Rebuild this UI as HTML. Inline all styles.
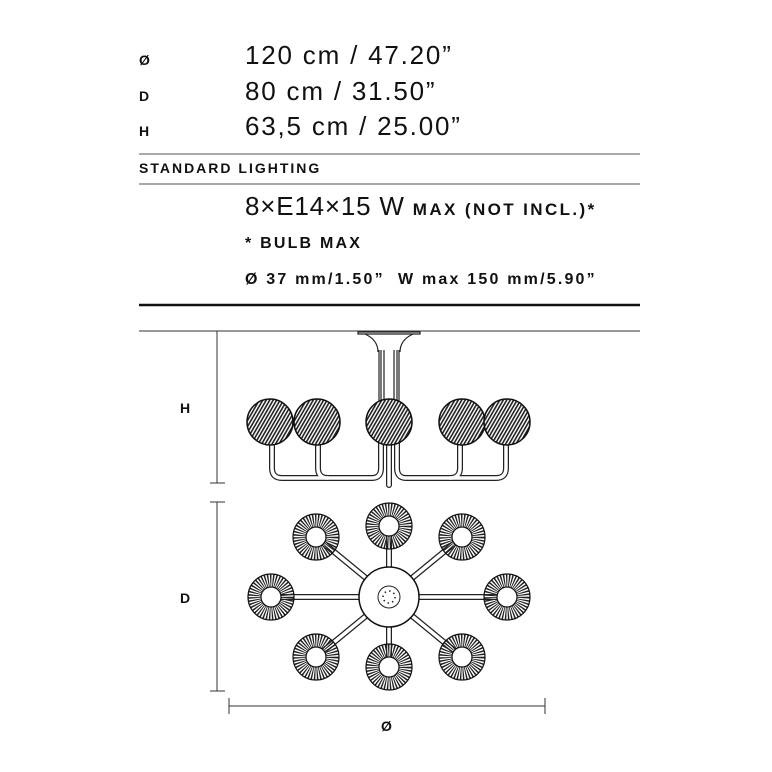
<!DOCTYPE html>
<html><head><meta charset="utf-8"><style>
html,body{margin:0;padding:0;background:#fff}
body{width:772px;height:772px;position:relative;overflow:hidden;font-family:"Liberation Sans",sans-serif;color:#111}
.t{position:absolute;white-space:nowrap}
.lab{font-weight:bold;font-size:14px;left:139px;letter-spacing:1.6px}
.big{font-size:26px;left:245px;letter-spacing:1.8px}
.b16{font-weight:bold;font-size:16px;left:245px;letter-spacing:2.2px}
</style></head><body>
<div class="t lab" style="top:52px">Ø</div>
<div class="t big" style="top:40px">120 cm / 47.20”</div>
<div class="t lab" style="top:88px">D</div>
<div class="t big" style="top:76px">80 cm / 31.50”</div>
<div class="t lab" style="top:123px">H</div>
<div class="t big" style="top:111px">63,5 cm / 25.00”</div>
<div class="t lab" style="top:160px;letter-spacing:2px">STANDARD LIGHTING</div>
<div class="t big" style="top:191px;letter-spacing:0.8px">8×E14×15 W <span style="font-size:17px;font-weight:bold;letter-spacing:2.4px">MAX (NOT INCL.)*</span></div>
<div class="t b16" style="top:235px">* BULB MAX</div>
<div class="t b16" style="top:271px">Ø 37 mm/1.50”&nbsp; W max 150 mm/5.90”</div>
<div class="t lab" style="left:180px;top:400px">H</div>
<div class="t lab" style="left:180px;top:590px">D</div>
<div class="t lab" style="left:381px;top:718px">Ø</div>
<svg width="772" height="772" style="position:absolute;left:0;top:0">
<defs>
<pattern id="hp" width="3" height="3" patternUnits="userSpaceOnUse" patternTransform="rotate(30)">
<rect width="3" height="3" fill="#fff"/><rect width="1.6" height="3" fill="#222"/></pattern>
<g id="ring">
<circle r="16.5" fill="none" stroke="#222" stroke-width="13" stroke-dasharray="1.2 1.2"/>
<circle r="23" fill="none" stroke="#111" stroke-width="1.2"/>
<circle r="10" fill="#fff" stroke="#111" stroke-width="1.2"/>
</g>
<g id="sph"><circle r="23" fill="url(#hp)" stroke="#111" stroke-width="1.5"/></g>
</defs>
<g stroke="#555" stroke-width="1"><line x1="139" y1="154" x2="640" y2="154"/><line x1="139" y1="184" x2="640" y2="184"/></g>
<line x1="139" y1="305" x2="640" y2="305" stroke="#111" stroke-width="2.5"/>
<line x1="139" y1="331" x2="640" y2="331" stroke="#333" stroke-width="1"/>
<g stroke="#333" stroke-width="1" fill="none">
<line x1="217" y1="331" x2="217" y2="483"/><line x1="210" y1="483" x2="225" y2="483"/>
<line x1="217" y1="502" x2="217" y2="691"/><line x1="210" y1="502" x2="225" y2="502"/><line x1="210" y1="691" x2="225" y2="691"/>
<line x1="229" y1="706" x2="545" y2="706"/><line x1="229" y1="698" x2="229" y2="714"/><line x1="545" y1="698" x2="545" y2="714"/>
</g>
<g fill="none" stroke="#222" stroke-width="1.2">
<path d="M358,332 H420 V334 H358 Z"/>
<path d="M365,334 Q378,340 378,352 M413,334 Q400,340 400,352"/>
<line x1="379" y1="350" x2="379" y2="470"/><line x1="381" y1="350" x2="381" y2="470"/>
<line x1="384" y1="350" x2="384" y2="400"/><line x1="394" y1="350" x2="394" y2="400"/>
<line x1="397" y1="350" x2="397" y2="470"/><line x1="399" y1="350" x2="399" y2="470"/>
</g>
<g fill="none" stroke-linecap="round">
<g stroke="#222" stroke-width="6">
<path d="M272,445 L272,468 Q272,478 282,478 L372,478 Q381,478 381,468 L381,440"/>
<path d="M318,445 L318,468 Q318,478 328,478"/>
<path d="M506,445 L506,468 Q506,478 496,478 L406,478 Q397,478 397,468 L397,440"/>
<path d="M460,445 L460,468 Q460,478 450,478"/>
<path d="M389,445 L389,485"/>
</g>
<g stroke="#fff" stroke-width="3.5">
<path d="M272,445 L272,468 Q272,478 282,478 L372,478 Q381,478 381,468 L381,440"/>
<path d="M318,445 L318,468 Q318,478 328,478"/>
<path d="M506,445 L506,468 Q506,478 496,478 L406,478 Q397,478 397,468 L397,440"/>
<path d="M460,445 L460,468 Q460,478 450,478"/>
<path d="M389,445 L389,485"/>
</g>
</g>
<use href="#sph" x="270" y="422"/><use href="#sph" x="317" y="422"/><use href="#sph" x="389" y="422"/><use href="#sph" x="462" y="422"/><use href="#sph" x="507" y="422"/>
<g stroke="#222" stroke-width="6" stroke-linecap="butt">
<line x1="389" y1="597" x2="389" y2="526"/><line x1="389" y1="597" x2="389" y2="667"/>
<line x1="389" y1="597" x2="271" y2="597"/><line x1="389" y1="597" x2="507" y2="597"/>
<line x1="389" y1="597" x2="316" y2="537"/><line x1="389" y1="597" x2="462" y2="537"/>
<line x1="389" y1="597" x2="316" y2="657"/><line x1="389" y1="597" x2="462" y2="657"/>
</g>
<g stroke="#fff" stroke-width="3.5">
<line x1="389" y1="597" x2="389" y2="526"/><line x1="389" y1="597" x2="389" y2="667"/>
<line x1="389" y1="597" x2="271" y2="597"/><line x1="389" y1="597" x2="507" y2="597"/>
<line x1="389" y1="597" x2="316" y2="537"/><line x1="389" y1="597" x2="462" y2="537"/>
<line x1="389" y1="597" x2="316" y2="657"/><line x1="389" y1="597" x2="462" y2="657"/>
</g>
<circle cx="389" cy="597" r="30" fill="#fff" stroke="#111" stroke-width="1.5"/>
<circle cx="389" cy="597" r="11" fill="#fff" stroke="#222" stroke-width="1"/>
<circle cx="389" cy="597" r="6" fill="none" stroke="#222" stroke-width="1.6" stroke-dasharray="1.4 3.3"/>
<use href="#ring" x="389" y="526"/><use href="#ring" x="316" y="537"/><use href="#ring" x="462" y="537"/>
<use href="#ring" x="271" y="597"/><use href="#ring" x="507" y="597"/>
<use href="#ring" x="316" y="657"/><use href="#ring" x="462" y="657"/><use href="#ring" x="389" y="667"/>
</svg>
</body></html>
